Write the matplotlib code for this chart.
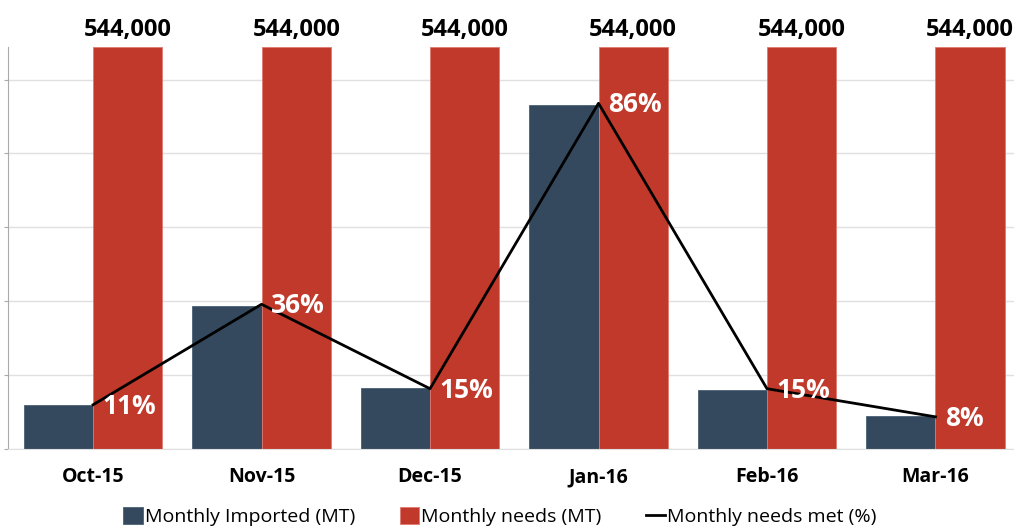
import matplotlib
matplotlib.use('Agg')
import matplotlib.pyplot as plt
import numpy as np

plt.rcParams['font.family'] = ['Open Sans', 'DejaVu Sans']

months = ['Oct-15', 'Nov-15', 'Dec-15', 'Jan-16', 'Feb-16', 'Mar-16']
imported = [60000, 194000, 83000, 466000, 80000, 44000]
needs = [544000, 544000, 544000, 544000, 544000, 544000]
met_pct = [11, 36, 15, 86, 15, 8]

blue = '#34495e'
red = '#c0392b'

fig = plt.figure(figsize=(10.14, 5.28), dpi=100)
ax = fig.add_axes([8 / 1014, 1 - 449 / 528, 1010 / 1014, 402 / 528])

x = np.arange(len(months))
w = 0.412
ax.bar(x - w / 2, imported, w, color=blue, edgecolor='#4a6175', linewidth=0.6, label='Monthly Imported (MT)')
ax.bar(x + w / 2, needs, w, color=red, edgecolor='#e07a70', linewidth=0.6, label='Monthly needs (MT)')

ax.set_ylim(0, 544000)
ax.set_xlim(-0.505, 5.49)
ax.set_yticks(np.arange(0, 544000, 100000))
ax.set_yticklabels([])
ax.tick_params(axis='y', length=3, color='#aaaaaa', direction='out')
ax.set_xticks(x)
ax.set_xticklabels([])
ax.tick_params(axis='x', length=0)
# month labels on a common baseline
for xi, m in zip(x, months):
    ax.annotate(m, (xi, 0), xycoords=ax.get_xaxis_transform(), xytext=(0, -24),
                textcoords='offset points', ha='center', va='baseline',
                fontsize=14, fontweight='bold', annotation_clip=False)
ax.grid(axis='y', color='#e0e0e0', linewidth=1)
ax.set_axisbelow(True)
for s in ['top', 'right']:
    ax.spines[s].set_visible(False)
ax.spines['bottom'].set_color('#e0e0e0')
ax.spines['left'].set_color('#aaaaaa')

# totals above red bars
for xi, v in zip(x, needs):
    ax.text(xi + w / 2, v + 7000, f'{v:,}', ha='center', va='bottom',
            fontsize=17, fontweight='bold', color='black', clip_on=False)

ax2 = ax.twinx()
ax2.set_ylim(0, 1)
ax2.axis('off')
pct = np.array(met_pct) / 100
line, = ax2.plot(x, pct, color='black', linewidth=2, label='Monthly needs met (%)')
for xi, p, t in zip(x, pct, met_pct):
    ax2.annotate(f'{t}%', (xi, p), xytext=(7, -1), textcoords='offset points',
                 ha='left', va='center', fontsize=19, fontweight='bold', color='white')

h1, l1 = ax.get_legend_handles_labels()
fig.legend(h1 + [line], l1 + ['Monthly needs met (%)'], loc='lower center',
           bbox_to_anchor=(0.493, -0.03), ncol=3, frameon=False, fontsize=14,
           handlelength=1.0, handleheight=1.0, handletextpad=0.1, columnspacing=2.3)

fig.savefig('out.png', dpi=100)
